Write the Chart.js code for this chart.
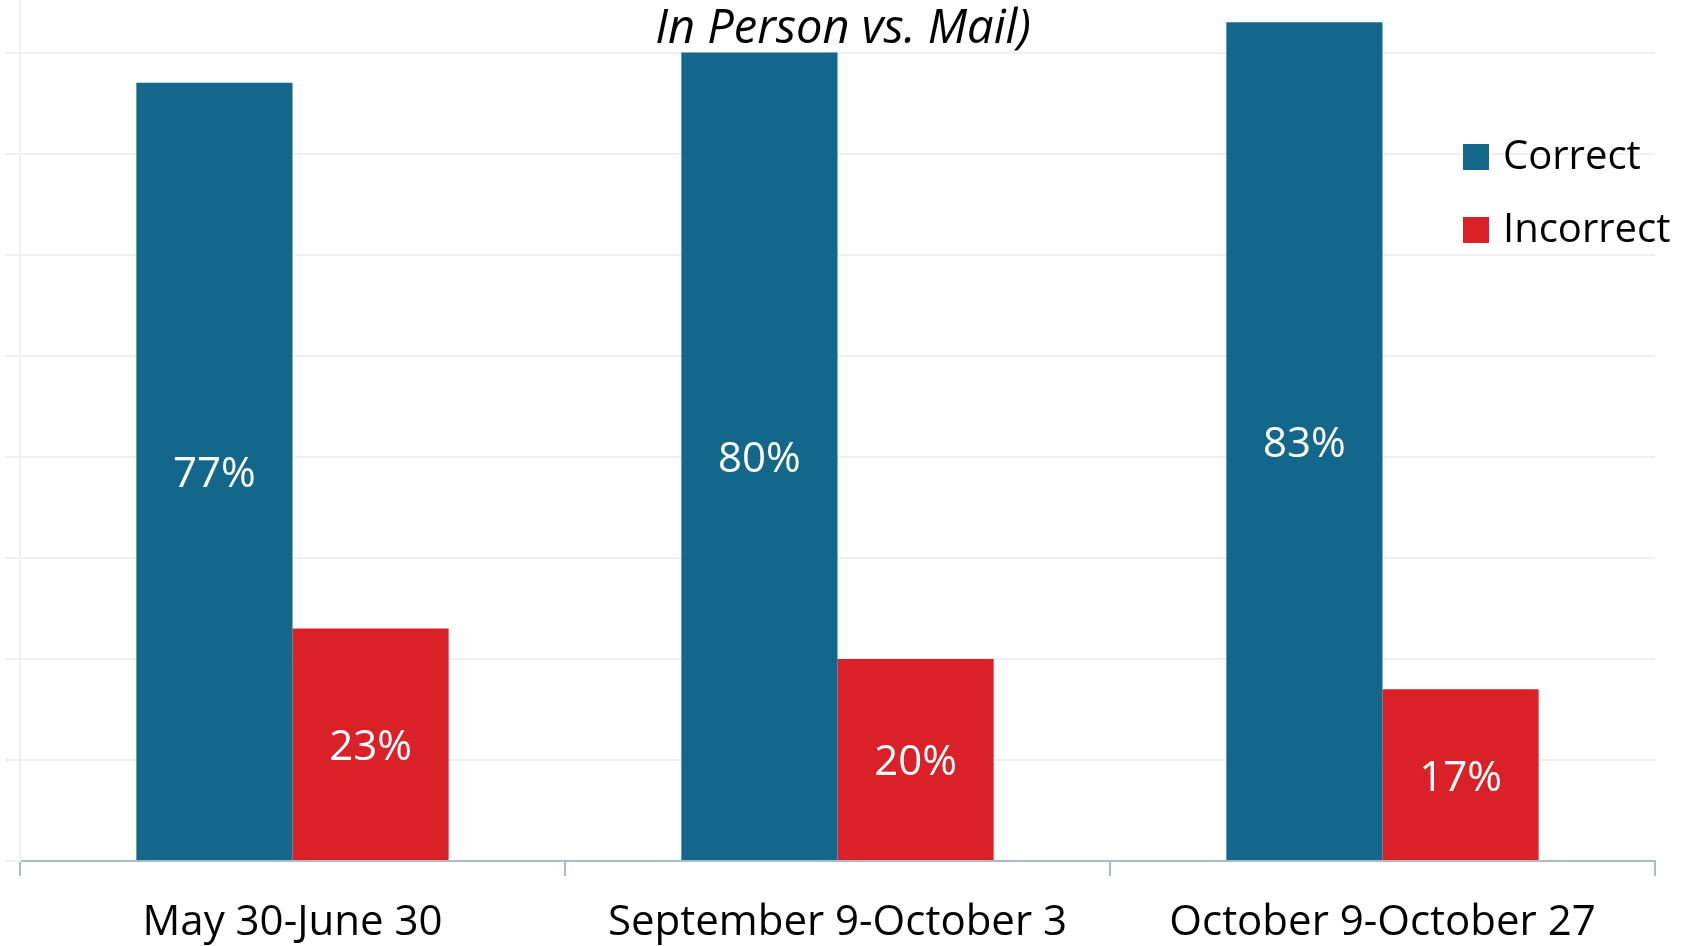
<!DOCTYPE html>
<html>
<head>
<meta charset="utf-8">
<script src="https://cdn.jsdelivr.net/npm/chart.js@4"></script>
<style>
  html, body { margin: 0; padding: 0; background: #ffffff; }
  #wrap { width: 1688px; height: 946px; }
</style>
</head>
<body>
<div id="wrap"><canvas id="myChart" width="1688" height="946"></canvas></div>
<script>
// data
const periods = ['May 30-June 30', 'September 9-October 3', 'October 9-October 27'];
const correctVals = [77, 80, 83];
const incorrectVals = [23, 20, 17];
const seriesNames = ['Correct', 'Incorrect'];
const seriesColors = ['#13678A', '#DA2128'];
const titleText = 'In Person vs. Mail)';

const FONT = "'Open Sans', 'Noto Sans', sans-serif";

// white % labels in the middle of each bar
const barLabels = {
  id: 'barLabels',
  afterDatasetsDraw(chart) {
    const ctx = chart.ctx;
    ctx.save();
    ctx.fillStyle = '#ffffff';
    ctx.font = '42px ' + FONT;
    ctx.textAlign = 'center';
    ctx.textBaseline = 'middle';
    chart.data.datasets.forEach((ds, i) => {
      chart.getDatasetMeta(i).data.forEach((bar, j) => {
        ctx.fillText(ds.data[j] + '%', bar.x, (bar.y + bar.base) / 2 + 4);
      });
    });
    ctx.restore();
  }
};

// title (cut at top) and legend drawn over the plot area
const overlay = {
  id: 'overlay',
  afterDraw(chart) {
    const ctx = chart.ctx;
    ctx.save();
    ctx.fillStyle = '#000000';
    ctx.font = 'italic 47px ' + FONT;
    ctx.textAlign = 'center';
    ctx.textBaseline = 'middle';
    ctx.fillText(titleText, 843, 30);

    ctx.font = '40px ' + FONT;
    ctx.textAlign = 'left';
    chart.data.datasets.forEach((ds, i) => {
      const cy = 157 + i * 73;
      ctx.fillStyle = ds.backgroundColor;
      ctx.fillRect(1463, cy - 13, 26, 26);
      ctx.fillStyle = '#000000';
      ctx.fillText(ds.label, 1503, cy + 1);
    });
    ctx.restore();
  }
};

const data = {
  labels: periods,
  datasets: [
    { label: seriesNames[0], data: correctVals, backgroundColor: seriesColors[0] },
    { label: seriesNames[1], data: incorrectVals, backgroundColor: seriesColors[1] }
  ]
};

const config = {
  type: 'bar',
  data: data,
  options: {
    responsive: false,
    animation: false,
    categoryPercentage: 0.573,
    barPercentage: 1.0,
    layout: { padding: { top: 2, left: 5, right: 33, bottom: 1 } },
    plugins: {
      legend: { display: false },
      title: { display: false },
      tooltip: { enabled: false }
    },
    scales: {
      x: {
        afterFit(scale) { scale.height = 84; },
        grid: { drawOnChartArea: false, color: '#A9BCC8', lineWidth: 2, tickLength: 15, offset: true },
        border: { color: '#A9BCC8', width: 2 },
        ticks: { color: '#000000', font: { family: FONT, size: 42 }, padding: 22, maxRotation: 0 }
      },
      y: {
        min: 0,
        max: 85,
        ticks: { display: false, stepSize: 10 },
        grid: {
          color: (c) => (c.tick && c.tick.value % 10 !== 0) ? 'rgba(0,0,0,0)' : '#F0F0F0',
          lineWidth: 2,
          tickLength: 15
        },
        border: { color: '#F0F0F0', width: 2 }
      }
    }
  },
  plugins: [barLabels, overlay]
};

let myChart = new Chart(document.getElementById('myChart').getContext('2d'), config);
</script>
</body>
</html>
